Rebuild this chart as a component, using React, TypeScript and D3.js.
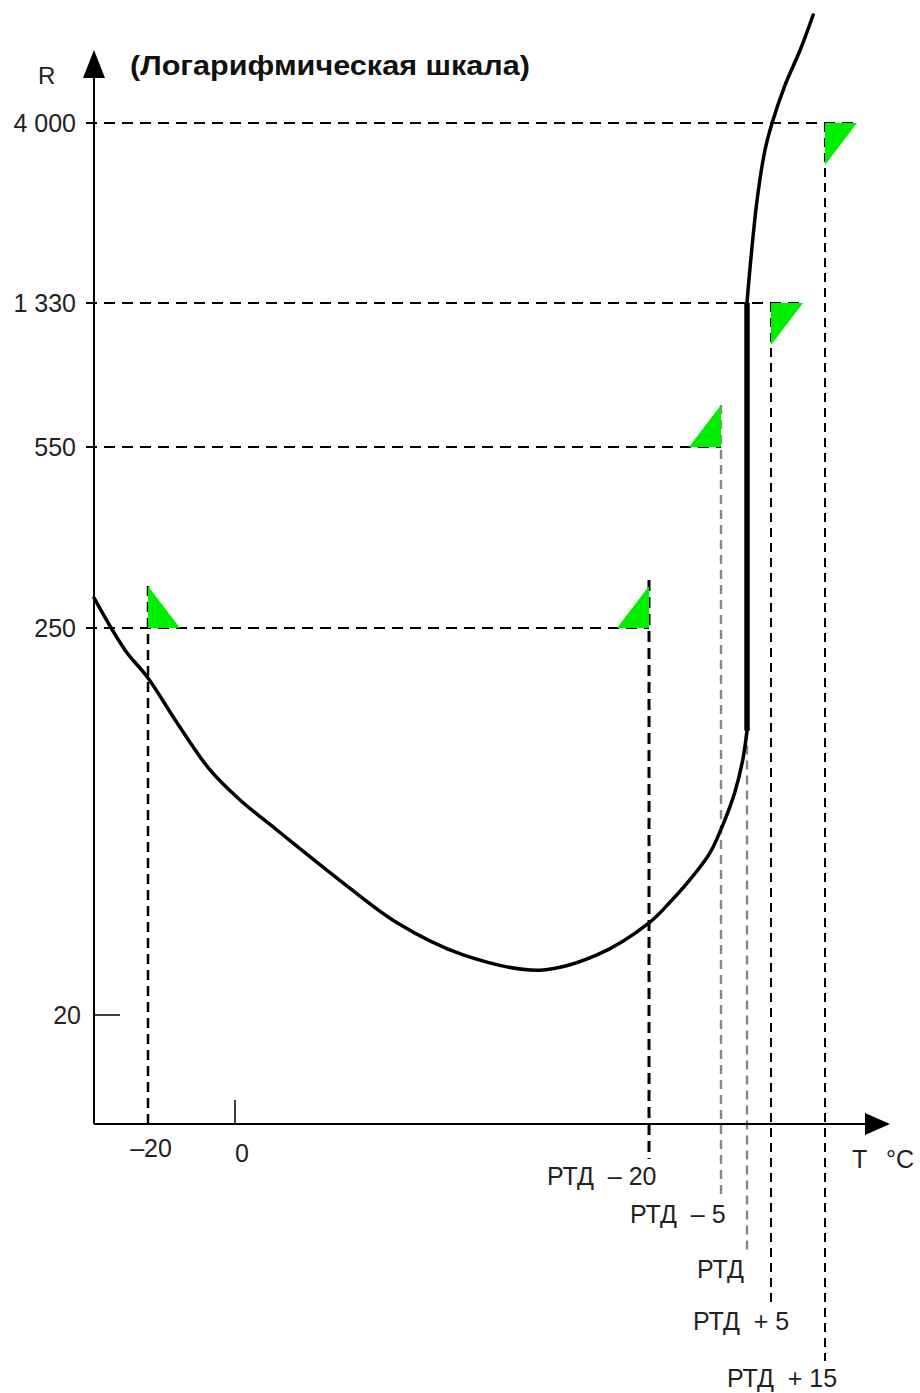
import React from 'react';
import * as d3 from 'd3';

// Y axis (logarithmic, schematic) tick values and labels
const yTickValues = [20, 250, 550, 1330, 4000];
const yTickLabels = ['20', '250', '550', '1 330', '4 000'];
// X axis ticks (°C); РТД is taken as a notional 100
const xTickValues = [-20, 0];
const xTickLabels = ['–20', '0'];
const rtdT = [80, 95, 100, 105, 115];
const rtdLabels = ['РТД  – 20', 'РТД  – 5', 'РТД', 'РТД  + 5', 'РТД  + 15'];
const rtdLineR = [250, 550, 128, 1330, 4000];

// Green threshold markers
const markerT = [-20, 80, 95, 105, 115];
const markerR = [250, 250, 550, 1330, 4000];
const markerDir = ['up-right', 'up-left', 'up-left', 'down-right', 'down-right'];

// Resistance curve R(T)
const curveT = [-32.4, -25.3, -20, -13.3, -5.75, 0.97, 8.1, 19.7, 31.3, 44.1, 58.9, 69.95, 80, 84.4, 88.5, 92.7, 95.5, 97.6, 99.2, 100, 100, 100.4, 102.1, 103.75, 105.2, 107.6, 110.4, 112.8];
const curveR = [285, 216.7, 180.4, 134.5, 99, 81.4, 66.9, 48.9, 36.5, 29.6, 26.8, 29.6, 36.5, 41.8, 48.3, 57.6, 70, 85, 106, 128, 1330, 1531, 2497, 3391, 4000, 5046, 6251, 7745];

const FONT = '"Liberation Sans", Arial, sans-serif';

export default function App() {
  const W = 920, H = 1393;
  const x = d3.scaleLinear().domain([-20, 0, 80, 95, 100, 105, 115]).range([148, 235, 649, 721, 747, 771, 825]);
  const y = d3.scaleLog().domain([20, 250, 550, 1330, 4000]).range([1015, 628, 447, 303, 123]);
  const axisX = 94, axisY = 1124, xEnd = 890, yTop = 50;
  const triW = 32, triH = 42;

  const pts: [number, number][] = curveT.map((t, i) => [x(t), y(curveR[i])]);
  const line = d3.line().curve(d3.curveCatmullRom.alpha(0.5));
  const splitAt = curveR.indexOf(1330);
  const lower = pts.slice(0, splitAt);
  const upper = pts.slice(splitAt);

  const labelBase = [1185, 1223, 1278, 1330, 1387];
  const labelDx = [-102, -91, -50, -78, -98];
  const lineColor = ['#000', '#888', '#888', '#000', '#000'];
  const lineWidth = [3, 2.4, 2.4, 2, 2];

  const tri = (t: number, r: number, dir: string) => {
    const px = x(t), py = y(r);
    if (dir === 'up-right') return `M${px},${py}L${px},${py - triH}L${px + triW},${py}Z`;
    if (dir === 'up-left') return `M${px},${py}L${px},${py - triH}L${px - triW},${py}Z`;
    return `M${px},${py}L${px + triW},${py}L${px},${py + triH}Z`;
  };

  // horizontal dashed lines: extend to furthest marker at each level
  const levels = [250, 550, 1330, 4000];
  const hEnd = levels.map((lv) => {
    let m = axisX;
    markerR.forEach((r, i) => {
      if (r === lv) {
        const e = x(markerT[i]) + (markerDir[i] === 'down-right' ? triW : 0);
        if (e > m) m = e;
      }
    });
    return m;
  });

  return (
    <svg width={W} height={H} style={{ position: 'absolute', left: 0, top: 0, background: '#fff' }} fontFamily={FONT}>
      <rect width={W} height={H} fill="#fff" />
      {/* horizontal dashed lines */}
      {levels.map((lv, i) => (
        <line key={'h' + i} x1={86} x2={hEnd[i]} y1={y(lv)} y2={y(lv)} stroke="#000" strokeWidth={2} strokeDasharray="11,7" />
      ))}
      {/* vertical dashed at -20 */}
      <line x1={x(-20)} x2={x(-20)} y1={y(250) - triH} y2={axisY + 6} stroke="#000" strokeWidth={2.5} strokeDasharray="10,6" />
      {/* vertical dashed at RTD offsets */}
      {rtdT.map((t, i) => (
        <line key={'v' + i} x1={x(t)} x2={x(t)} y1={i === 0 ? y(rtdLineR[i]) - triH - 6 : i === 1 ? y(rtdLineR[i]) - triH : y(rtdLineR[i])} y2={labelBase[i] - 26}
          stroke={lineColor[i]} strokeWidth={lineWidth[i]} strokeDasharray={i === 0 ? '11,6' : '9,6'} />
      ))}
      {/* markers */}
      {markerT.map((t, i) => (
        <path key={'m' + i} d={tri(t, markerR[i], markerDir[i])} fill="#00ee00" />
      ))}
      {/* axes */}
      <line x1={axisX} x2={axisX} y1={axisY} y2={yTop + 26} stroke="#000" strokeWidth={2} />
      <path d={`M${axisX},${yTop}L${axisX - 11},${yTop + 28}L${axisX + 11},${yTop + 28}Z`} fill="#000" />
      <line x1={axisX} x2={xEnd - 24} y1={axisY} y2={axisY} stroke="#000" strokeWidth={2} />
      <path d={`M${xEnd},${axisY}L${xEnd - 25},${axisY - 11}L${xEnd - 25},${axisY + 11}Z`} fill="#000" />
      {/* curve */}
      <path d={line(lower) || ''} fill="none" stroke="#000" strokeWidth={3.5} strokeLinecap="round" />
      <path d={line(upper) || ''} fill="none" stroke="#000" strokeWidth={3.5} strokeLinecap="round" />
      <line x1={x(100)} x2={x(100)} y1={y(128)} y2={y(1330)} stroke="#000" strokeWidth={5.5} />
      {/* y tick labels */}
      {yTickValues.map((v, i) => (
        <text key={'yt' + i} x={v === 20 ? 81 : 76} y={y(v) + 9} textAnchor="end" fontSize={25} fill="#222">{yTickLabels[i]}</text>
      ))}
      <line x1={axisX} x2={120} y1={y(20)} y2={y(20)} stroke="#000" strokeWidth={1.5} />
      {/* x ticks */}
      <line x1={x(0)} x2={x(0)} y1={1100} y2={axisY} stroke="#000" strokeWidth={1.5} />
      {xTickValues.map((v, i) => (
        <text key={'xt' + i} x={x(v) + (v === 0 ? 7 : 3)} y={v === 0 ? 1162 : 1157} textAnchor="middle" fontSize={25} fill="#222">{xTickLabels[i]}</text>
      ))}
      {rtdT.map((t, i) => (
        <text key={'rl' + i} x={x(t) + labelDx[i]} y={labelBase[i]} fontSize={25} fill="#222" style={{ whiteSpace: 'pre' }}>{rtdLabels[i]}</text>
      ))}
      {/* axis titles */}
      <text x={38} y={84} fontSize={24} fill="#222">R</text>
      <text x={130} y={75} fontSize={27} fontWeight="bold" fill="#111" textLength={400} lengthAdjust="spacingAndGlyphs">(Логарифмическая шкала)</text>
      <text x={852} y={1168} fontSize={25} fill="#222">T</text>
      <text x={886} y={1168} fontSize={25} fill="#222">°C</text>
    </svg>
  );
}
